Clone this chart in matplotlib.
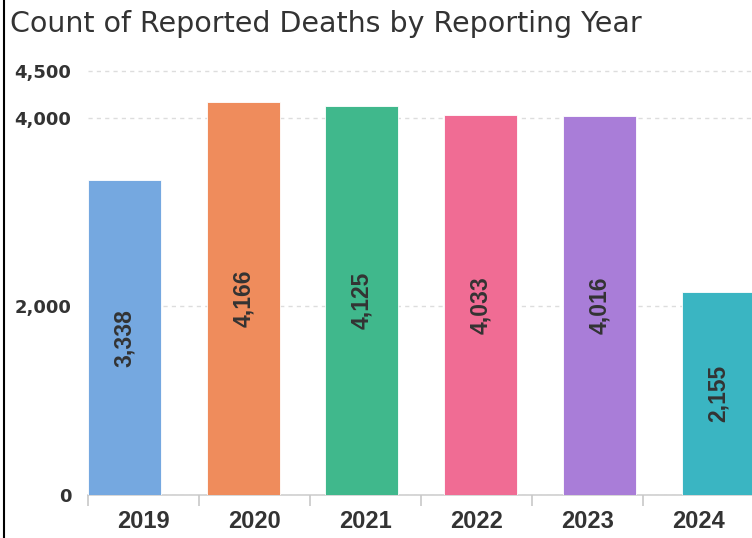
import matplotlib.pyplot as plt
from matplotlib.lines import Line2D

# Data
years = ['2019', '2020', '2021', '2022', '2023', '2024']
deaths = [3338, 4166, 4125, 4033, 4016, 2155]
colors = ['#75A8E0', '#EF8C5C', '#40B88C', '#F06C94', '#A97DD8', '#3AB5C2']
y_ticks = [0, 2000, 4000, 4500]

text_color = '#333333'
fig = plt.figure(figsize=(7.52, 5.38), dpi=100)
ax = fig.add_axes([88 / 752, 43 / 538, 1 - 88 / 752, 433.6 / 538])

x = list(range(len(years)))
bar_w = 0.615
ax.bar(x, deaths, width=bar_w, color=colors, edgecolor='white', linewidth=0.6, zorder=3)

for xi, v in zip(x, deaths):
    ax.text(xi, v / 2, f'{v:,}', rotation=90, ha='center', va='center',
            fontsize=16.5, fontweight='bold', color=text_color, family='Liberation Sans', zorder=4)

ax.set_xlim(-bar_w / 2, 5.286)
ax.set_ylim(0, 4600)
ax.set_yticks(y_ticks)
ax.set_yticklabels([f'{t:,}' for t in y_ticks])
ax.tick_params(axis='y', length=0, pad=12, labelsize=13, labelcolor=text_color)
for lab in ax.get_yticklabels():
    lab.set_fontweight('bold')
    lab.set_family('DejaVu Sans')
ax.set_xticks([])
ax.grid(axis='y', color='#dddddd', linestyle=(0, (3, 3)), linewidth=1, zorder=0)
for s in ['top', 'right', 'left']:
    ax.spines[s].set_visible(False)
ax.spines['bottom'].set_color('#d0d0d0')
ax.spines['bottom'].set_linewidth(1.2)

# category axis for the year labels
ax2 = ax.twiny()
ax2.set_xlim(0, 5.98)
ax2.xaxis.set_ticks_position('bottom')
ax2.set_xticks(range(len(years)))
ax2.set_xticklabels([])
ax2.set_xticks([i + 0.5 for i in x], minor=True)
ax2.set_xticklabels(years, minor=True)
ax2.tick_params(axis='x', which='major', length=8, color='#c8c8c8', width=1.2)
ax2.tick_params(axis='x', which='minor', length=0, pad=11, labelsize=17, labelcolor=text_color)
for lab in ax2.get_xticklabels(minor=True):
    lab.set_fontweight('bold')
    lab.set_family('Liberation Sans')
for s in ax2.spines.values():
    s.set_visible(False)

fig.text(10 / 752, 1 - 32 / 538, 'Count of Reported Deaths by Reporting Year',
         fontsize=20.5, color=text_color, family='DejaVu Sans', ha='left', va='baseline')

fig.add_artist(Line2D([4 / 752, 4 / 752], [0, 1], color='black', linewidth=1.5))

fig.savefig('out.png', dpi=100)
